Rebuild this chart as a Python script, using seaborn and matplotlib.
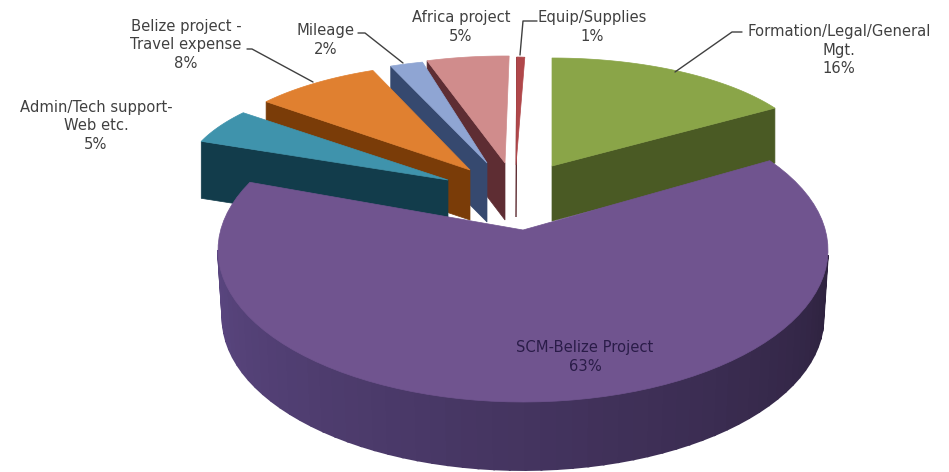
import numpy as np
import seaborn as sns
import matplotlib.pyplot as plt
from matplotlib.patches import Polygon
from matplotlib.colors import to_rgb

# percentages, clockwise from 12 o'clock
categories = ['Formation/Legal/General\nMgt.', 'SCM-Belize Project', 'Admin/Tech support-\nWeb etc.',
              'Belize project -\nTravel expense', 'Mileage', 'Africa project', 'Equip/Supplies']
shares = [16, 63, 5, 8, 2, 5, 1]

top_colors = ['#8aa548', '#70548f', '#3f93ac', '#e08030', '#8fa5d3', '#d08c8c', '#b0474a']
wall_colors = ['#4a5a24', '#4a3a68', '#123c4b', '#7a3c08', '#36496f', '#5e2d33', '#5e2d33']

# apex x, apex y, ellipse centre dy, rx, ry, angle shift, angle stretch, depth
layout = {
    'Formation/Legal/General\nMgt.': (552, 166, 0, 264, 108, 0, 1, 55),
    'SCM-Belize Project': (523, 230, 20, 305, 152, -3.6, 1.069, 68),
    'Admin/Tech support-\nWeb etc.': (448, 180, 0, 265, 106, 7, 1, 57),
    'Belize project -\nTravel expense': (470, 170, 0, 265, 107, 7.3, 1, 50),
    'Mileage': (487, 163, 0, 265, 104, 7.5, 1, 59),
    'Africa project': (505, 163, 0, 265, 107, 4.5, 1, 57),
    'Equip/Supplies': (516, 165, 0, 130, 108, 3.9, 1, 52),
}

# label block centres
label_pos = {
    'Formation/Legal/General\nMgt.': (839, 50),
    'SCM-Belize Project': (585, 357),
    'Admin/Tech support-\nWeb etc.': (96, 126),
    'Belize project -\nTravel expense': (186, 45),
    'Mileage': (326, 40),
    'Africa project': (461, 27),
    'Equip/Supplies': (592, 27),
}

leaders = [
    [(247, 49), (252, 49), (313, 82)],
    [(358, 33), (365, 33), (403, 63)],
    [(537, 21), (523, 21), (520, 55)],
    [(742, 32), (732, 32), (675, 72)],
]

sns.set_theme(style='white')
plt.rcParams['font.family'] = ['DejaVu Sans']

fig = plt.figure(figsize=(9.49, 4.72), dpi=100)
ax = fig.add_axes([0, 0, 1, 1])
ax.set_xlim(0, 949)
ax.set_ylim(472, 0)
ax.axis('off')

edges = np.cumsum([0] + shares) * 3.6
draw_order = [6, 5, 4, 3, 2, 0, 1]


def arc_points(t1, t2, cx, cy, rx, ry, n=80):
    t = np.radians(np.linspace(t1, t2, n))
    return np.column_stack([cx + rx * np.sin(t), cy - ry * np.cos(t)])


for i in draw_order:
    name = categories[i]
    ax_, ay, dy, rx, ry, shift, stretch, depth = layout[name]
    t1 = edges[i] + shift
    t2 = t1 + (edges[i + 1] - edges[i]) * stretch
    arc = arc_points(t1, t2, ax_, ay + dy, rx, ry)
    apex = np.array([ax_, ay])
    down = np.array([0, depth])

    if name == 'SCM-Belize Project':
        # front wall, shaded from left to right, bottom edge a bit narrower
        front = arc_points(92, 270, ax_, ay + dy, rx, ry, n=60)[::-1]
        base = arc_points(92, 270, ax_, ay + dy + depth, rx * 0.985, ry, n=60)[::-1]
        dark = np.array(to_rgb('#2f2340'))
        light = np.array(to_rgb('#5a4680'))
        for k in range(len(front) - 1):
            c = light + (dark - light) * k / (len(front) - 2)
            quad = [front[k], front[k + 1], base[k + 1], base[k]]
            ax.add_patch(Polygon(quad, closed=True, fc=c, ec=c, lw=1.4))
    else:
        # the cut face that looks at the viewer
        corner = arc[-1] if name.startswith('Formation') else arc[0]
        wall = [apex, corner, corner + down, apex + down]
        ax.add_patch(Polygon(wall, closed=True, fc=wall_colors[i], ec=wall_colors[i], lw=0.5))

    face = np.vstack([apex, arc])
    ax.add_patch(Polygon(face, closed=True, fc=top_colors[i], ec=top_colors[i], lw=0.5))

for i, name in enumerate(categories):
    x, y = label_pos[name]
    color = '#2a1c48' if name == 'SCM-Belize Project' else '#404040'
    ax.text(x, y, f'{name}\n{shares[i]}%', ha='center', va='center', fontsize=10.6,
            color=color, linespacing=1.3)

for pts in leaders:
    xs, ys = zip(*pts)
    sns.lineplot(x=list(xs), y=list(ys), ax=ax, color='#404040', lw=1, sort=False, estimator=None)

fig.savefig('out.png', dpi=100)
